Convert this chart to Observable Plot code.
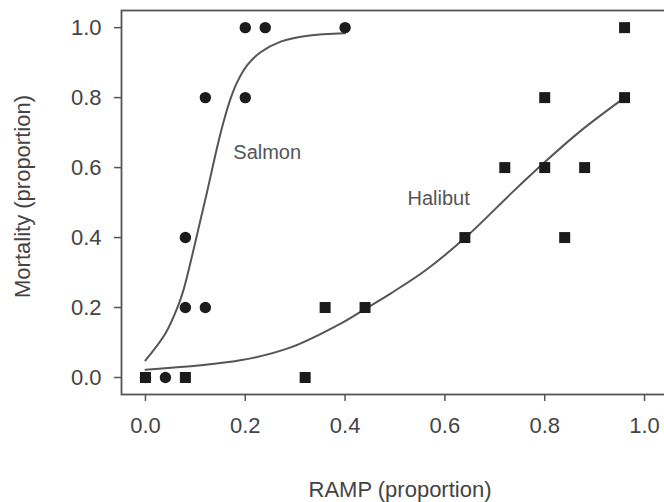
<!DOCTYPE html>
<html>
<head>
<meta charset="utf-8">
<script src="https://cdn.jsdelivr.net/npm/d3@7"></script>
<script src="https://cdn.jsdelivr.net/npm/@observablehq/plot@0.6"></script>
<style>
  html, body { margin: 0; padding: 0; background: #fff; overflow: hidden; width: 664px; height: 502px; }
  #chart { width: 664px; overflow: hidden; }
  #chart svg { display: block; max-width: none !important; height: 502px !important; }
</style>
</head>
<body>
<div id="chart"></div>
<script>
// Salmon observations (RAMP proportion, mortality proportion)
const salmonX = [0.00, 0.04, 0.08, 0.08, 0.12, 0.12, 0.20, 0.20, 0.24, 0.40];
const salmonY = [0.0, 0.0, 0.4, 0.2, 0.2, 0.8, 0.8, 1.0, 1.0, 1.0];

// Halibut observations
const halibutX = [0.00, 0.08, 0.32, 0.36, 0.44, 0.64, 0.84, 0.72, 0.80, 0.88, 0.80, 0.96, 0.96];
const halibutY = [0.0, 0.0, 0.0, 0.2, 0.2, 0.4, 0.4, 0.6, 0.6, 0.6, 0.8, 0.8, 1.0];

// Fitted curves
const salmonCurveX = [0.000, 0.040, 0.064, 0.076, 0.096, 0.110, 0.124, 0.144, 0.156, 0.170, 0.184, 0.204, 0.230, 0.271, 0.325, 0.400];
const salmonCurveY = [0.049, 0.126, 0.200, 0.249, 0.363, 0.449, 0.534, 0.660, 0.728, 0.795, 0.845, 0.893, 0.929, 0.960, 0.977, 0.984];
const halibutCurveX = [0.000, 0.190, 0.291, 0.391, 0.439, 0.491, 0.560, 0.641, 0.737, 0.798, 0.872, 0.960];
const halibutCurveY = [0.022, 0.049, 0.086, 0.154, 0.195, 0.240, 0.305, 0.400, 0.532, 0.613, 0.705, 0.800];

// Labels
const seriesLabels = ["Salmon", "Halibut"];
const labelX = [0.176, 0.525];
const labelY = [0.643, 0.511];
const xTicks = [0, 0.2, 0.4, 0.6, 0.8, 1.0];
const yTicks = [0, 0.2, 0.4, 0.6, 0.8, 1.0];
const xTitle = "RAMP (proportion)";
const yTitle = "Mortality (proportion)";

const salmon = salmonX.map((x, i) => ({x, y: salmonY[i]}));
const halibut = halibutX.map((x, i) => ({x, y: halibutY[i]}));
const salmonCurve = salmonCurveX.map((x, i) => ({x, y: salmonCurveY[i]}));
const halibutCurve = halibutCurveX.map((x, i) => ({x, y: halibutCurveY[i]}));
const labels = seriesLabels.map((t, i) => ({t, x: labelX[i], y: labelY[i]}));

const FONT = "'Liberation Sans', Arial, Helvetica, sans-serif";
const GREY = "#555";
const INK = "#1b1b1b";
const TXT = "#444";

const chart = Plot.plot({
  width: 670,
  height: 502,
  marginLeft: 121,
  marginRight: 2,
  marginTop: 10,
  marginBottom: 108,
  style: {fontFamily: FONT, fontSize: "22px", color: TXT, background: "#fff", maxWidth: "none"},
  x: {domain: [-0.048, 1.048]},
  y: {domain: [-0.0486, 1.049]},
  marks: [
    Plot.frame({stroke: GREY, strokeWidth: 1.8}),
    Plot.axisX({
      ticks: xTicks, tickFormat: d3.format(".1f"), tickSize: 7, tickPadding: 16,
      stroke: GREY, strokeWidth: 1.5, fill: TXT, fontSize: 22,
      label: null
    }),
    Plot.axisY({
      ticks: yTicks, tickFormat: d3.format(".1f"), tickSize: 7, tickPadding: 13,
      stroke: GREY, strokeWidth: 1.5, fill: TXT, fontSize: 22,
      label: null
    }),
    Plot.text([xTitle], {
      frameAnchor: "bottom", textAnchor: "middle", lineAnchor: "middle", dy: 95, dx: 5, fontSize: 22, fill: TXT
    }),
    Plot.text([yTitle], {
      frameAnchor: "left", textAnchor: "middle", lineAnchor: "middle", dx: -99, dy: -6, rotate: -90, fontSize: 22, fill: TXT
    }),
    Plot.line(salmonCurve, {x: "x", y: "y", curve: "catmull-rom", stroke: GREY, strokeWidth: 2}),
    Plot.line(halibutCurve, {x: "x", y: "y", curve: "catmull-rom", stroke: GREY, strokeWidth: 2}),
    Plot.dot(halibut, {x: "x", y: "y", symbol: "square", r: 6.2, fill: INK, stroke: "none"}),
    Plot.dot(salmon, {x: "x", y: "y", symbol: "circle", r: 5.7, fill: INK, stroke: "none"}),
    Plot.text(labels, {x: "x", y: "y", text: "t", textAnchor: "start", lineAnchor: "middle", fontSize: 20, fill: "#555"})
  ]
});
document.getElementById("chart").appendChild(chart);
</script>
</body>
</html>
